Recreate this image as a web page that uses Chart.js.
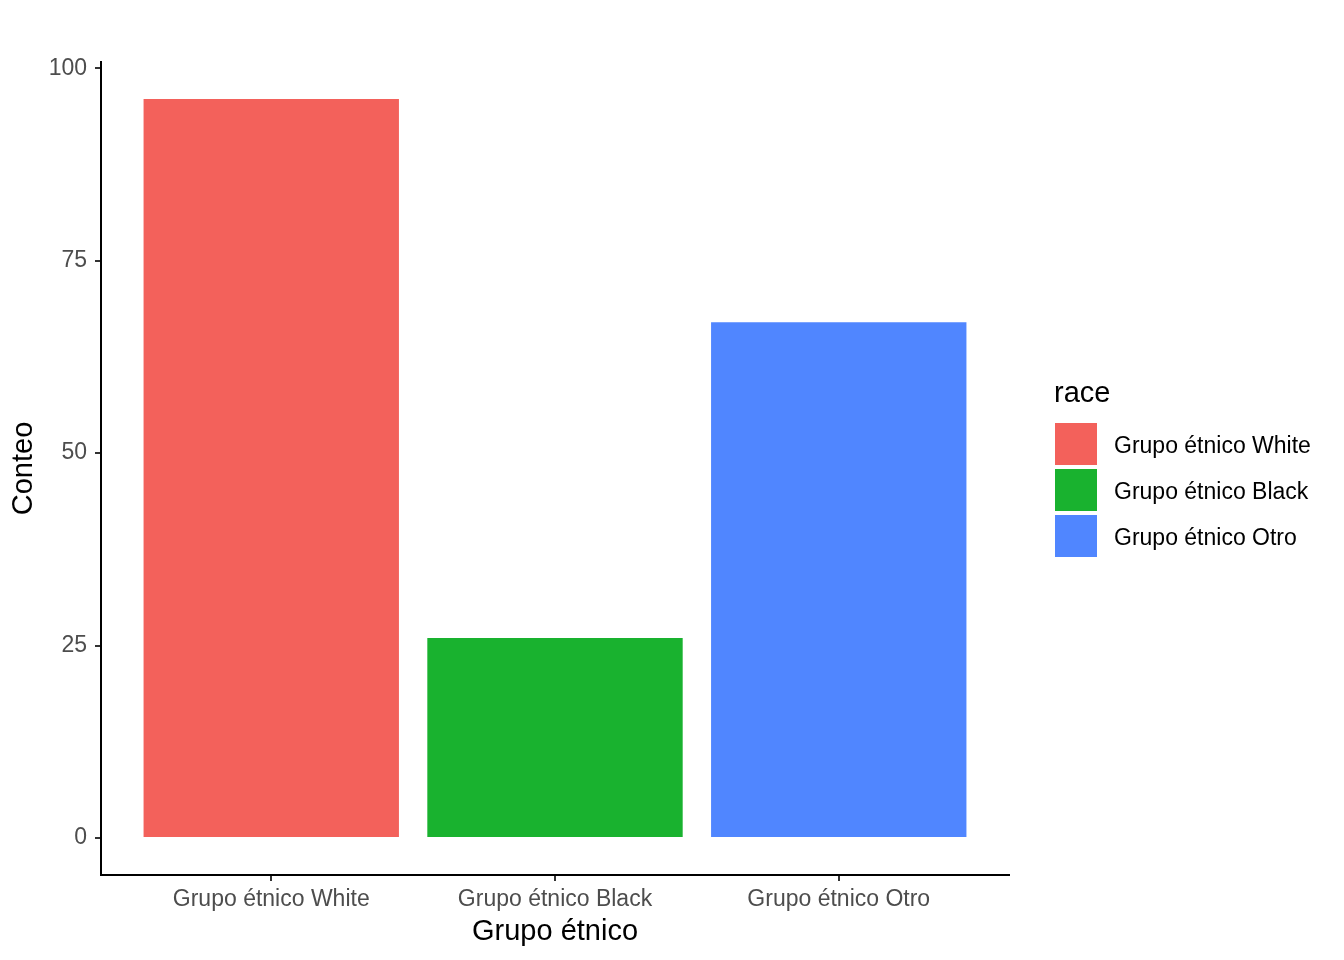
<!DOCTYPE html>
<html lang="es">
<head>
    <meta charset="UTF-8">
    <title>Conteo por grupo étnico</title>
    <script src="https://cdn.jsdelivr.net/npm/chart.js"></script>
    <style>
        body { margin: 0; background: #fff; }
        .wrap { position: relative; width: 1344px; height: 960px; }
        .legend { position: absolute; left: 1054px; top: 0; font-family: "Liberation Sans", Arial, sans-serif; }
        .legend-title { position: absolute; left: 0; top: 376px; font-size: 29px; color: #000; white-space: nowrap; }
        .legend-item { position: absolute; left: 1px; height: 42px; white-space: nowrap; }
        .legend-key { position: absolute; left: 0; top: 0; width: 42px; height: 42px; }
        .legend-label { position: absolute; left: 59px; top: 1px; line-height: 42px; font-size: 23px; color: #000; }
    </style>
</head>
<body>
    <div class="wrap">
        <canvas id="barChart"></canvas>
        <div class="legend" id="legend"></div>
    </div>

    <script>
        const categories = ['Grupo étnico White', 'Grupo étnico Black', 'Grupo étnico Otro'];
        const counts = [96, 26, 67];
        const colors = ['#F3615B', '#19B22F', '#5086FF'];
        const yTicks = [0, 25, 50, 75, 100];
        const legendTitle = 'race';

        const font = '"Liberation Sans", Arial, sans-serif';

        // legend, same order as the bars
        const legend = document.getElementById('legend');
        legend.innerHTML = '<div class="legend-title">' + legendTitle + '</div>';
        categories.forEach(function(cat, i) {
            const item = document.createElement('div');
            item.className = 'legend-item';
            item.style.top = (423 + i * 46) + 'px';
            item.innerHTML = '<div class="legend-key" style="background:' + colors[i] + '"></div>' +
                '<div class="legend-label">' + cat + '</div>';
            legend.appendChild(item);
        });

        new Chart(document.getElementById('barChart'), {
            type: 'bar',
            data: {
                datasets: [{
                    data: categories.map((c, i) => ({ x: i + 1, y: counts[i] })),
                    backgroundColor: colors,
                    borderWidth: 0,
                    barPercentage: 0.9,
                    categoryPercentage: 1.0
                }]
            },
            options: {
                responsive: true,
                maintainAspectRatio: false,
                animation: false,
                layout: { padding: { top: 62, right: 335, bottom: 0, left: 0 } },
                plugins: {
                    legend: { display: false },
                    tooltip: { enabled: false }
                },
                scales: {
                    x: {
                        type: 'linear',
                        offset: false,
                        min: 0.4,
                        max: 3.6,
                        afterBuildTicks: function(scale) {
                            scale.ticks = categories.map((c, i) => ({ value: i + 1 }));
                        },
                        afterFit: function(scale) { scale.height = 85; },
                        ticks: {
                            autoSkip: false,
                            maxRotation: 0,
                            padding: 5,
                            color: '#4D4D4D',
                            font: { family: font, size: 23 },
                            callback: function(v) { return categories[Math.round(v) - 1]; }
                        },
                        grid: {
                            offset: false,
                            drawOnChartArea: false,
                            drawTicks: true,
                            tickLength: 6,
                            lineWidth: 2,
                            color: '#333333'
                        },
                        border: { display: true, color: '#000000', width: 2 },
                        title: {
                            display: true,
                            text: 'Grupo étnico',
                            color: '#000000',
                            font: { family: font, size: 29 },
                            padding: { top: 0, bottom: 11 }
                        }
                    },
                    y: {
                        min: -4.8,
                        max: 100.8,
                        afterBuildTicks: function(scale) {
                            scale.ticks = yTicks.map(v => ({ value: v }));
                        },
                        afterFit: function(scale) { scale.width = 101; },
                        ticks: {
                            padding: 8,
                            color: '#4D4D4D',
                            font: { family: font, size: 23 }
                        },
                        grid: {
                            drawOnChartArea: false,
                            drawTicks: true,
                            tickLength: 6,
                            lineWidth: 2,
                            color: '#333333'
                        },
                        border: { display: true, color: '#000000', width: 2 },
                        title: {
                            display: true,
                            text: 'Conteo',
                            color: '#000000',
                            font: { family: font, size: 29 },
                            padding: { top: 7, bottom: 0 }
                        }
                    }
                }
            }
        });
    </script>
</body>
</html>
